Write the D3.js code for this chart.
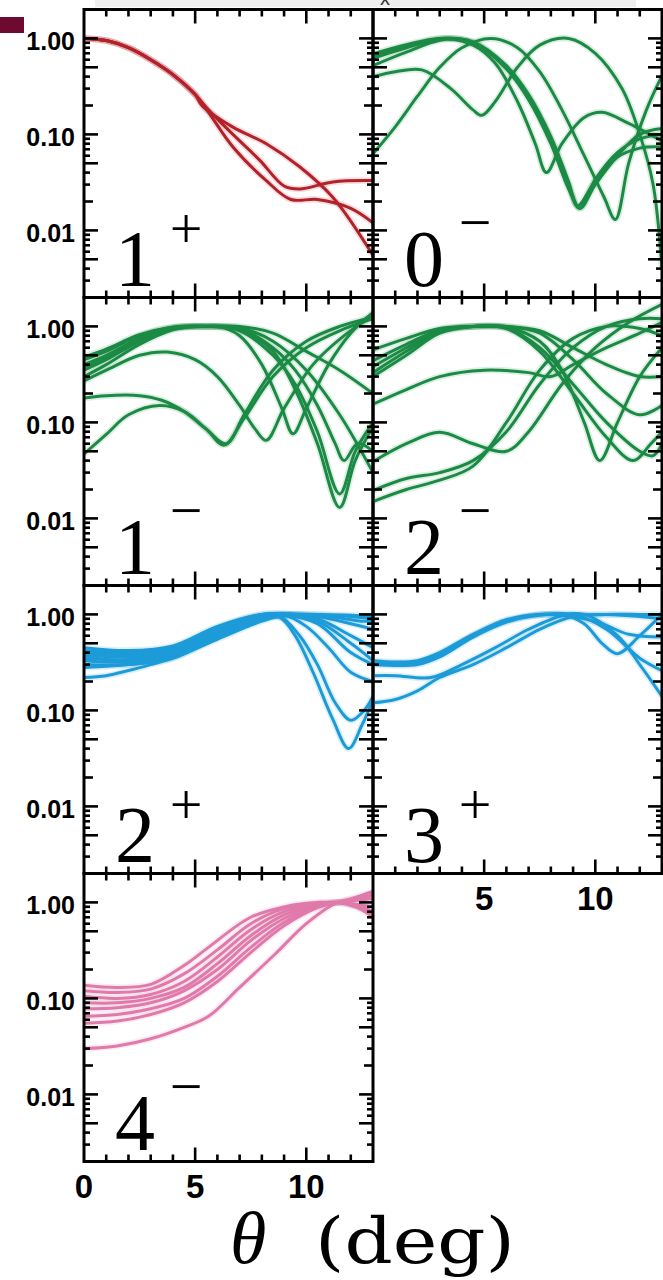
<!DOCTYPE html>
<html>
<head>
<meta charset="utf-8">
<script src="https://d3js.org/d3.v7.min.js"></script>
<style>
  body { margin: 0; background: #fff; }
  svg { display: block; }
</style>
</head>
<body>
<svg id="chart" width="663" height="1280"></svg>
<script>
// axes
const thetaDomain = [0, 13];
const yDomain = [0.002, 2];
const xMajorTicks = [5, 10];
const xLabelTicks = [0, 5, 10];
const yLabelTicks = [1, 0.1, 0.01];
const yLabelText = ["1.00", "0.10", "0.01"];

// curves, [theta (deg), normalised value]
const curves1p = [
  [[0,1],[1,0.95],[2,0.8],[3,0.6],[4,0.42],[5,0.26],[5.3,0.2],[6.7,0.119],[8.2,0.08],[9.7,0.046],[11.2,0.022],[13,0.0055]],
  [[0,1],[1,0.95],[2,0.8],[3,0.6],[4,0.42],[5,0.26],[5.6,0.18],[6.7,0.1],[7.9,0.054],[9,0.029],[9.7,0.027],[11.2,0.032],[13,0.033]],
  [[0,1],[1,0.95],[2,0.8],[3,0.6],[4,0.42],[5,0.26],[5.6,0.17],[6.7,0.074],[8.2,0.033],[9.3,0.021],[10.5,0.021],[12,0.017],[13,0.012]]
];
const curves0m = [
  [[0,0.69],[1.5,0.86],[3,1.0],[4.5,0.9],[6,0.5],[7,0.25],[8,0.09],[8.8,0.03],[9.3,0.017],[10,0.03],[11,0.06],[12,0.1],[13,0.115]],
  [[0,0.62],[1.5,0.8],[3.2,1.0],[4.5,0.92],[6,0.52],[7,0.26],[8,0.095],[8.8,0.032],[9.2,0.018],[10,0.033],[11,0.058],[12,0.072],[13,0.074]],
  [[0,0.66],[1.5,0.83],[3.1,1.0],[4.5,0.91],[6,0.48],[7,0.23],[8,0.08],[8.8,0.027],[9.3,0.017],[10,0.034],[11,0.065],[12,0.09],[13,0.1]],
  [[0,0.52],[1.5,0.72],[3.3,0.98],[4.5,0.85],[5.5,0.55],[6.5,0.22],[7.3,0.08],[7.8,0.04],[8.5,0.08],[9.5,0.15],[10.3,0.17],[11.5,0.13],[13,0.085]],
  [[0,0.40],[1,0.45],[2.2,0.47],[3.5,0.3],[4.5,0.18],[4.9,0.158],[5.5,0.22],[6.5,0.5],[7.5,0.85],[8.8,1.0],[10,0.7],[11.2,0.3],[12,0.1],[12.6,0.03],[13,0.004]],
  [[0,0.063],[1,0.12],[2,0.25],[3,0.5],[4,0.8],[5.3,1.0],[6.5,0.8],[7.5,0.45],[8.5,0.18],[9.5,0.06],[10.4,0.022],[10.9,0.013],[11.5,0.05],[12.3,0.18],[13,0.41]]
];
const curves1m = [
  [[0,0.18],[1,0.19],[2.5,0.19],[3.5,0.17],[4.5,0.13],[5.5,0.085],[6.4,0.06],[7.2,0.12],[8.5,0.35],[10,0.7],[11.5,1.0],[13,1.25]],
  [[0,0.047],[1,0.075],[2,0.12],[3.4,0.15],[4.5,0.13],[5.5,0.085],[6.3,0.058],[7.2,0.11],[8.5,0.3],[10,0.6],[11.5,0.9],[13,1.2]],
  [[0,0.27],[1,0.35],[2.5,0.5],[3.75,0.54],[5,0.45],[6,0.3],[7,0.15],[7.7,0.085],[8.2,0.065],[9,0.14],[10.3,0.4],[11.7,0.8],[13,1.3]],
  [[0,0.3],[1,0.4],[2.5,0.65],[4,0.92],[5,1.0],[6,1.0],[7,0.8],[8,0.4],[8.9,0.14],[9.4,0.076],[10,0.14],[11,0.4],[12,0.85],[13,1.4]],
  [[0,0.35],[1,0.45],[2.5,0.7],[4,0.95],[5.5,1.0],[7,0.95],[8.5,0.6],[9.5,0.35],[10.5,0.15],[11.3,0.06],[11.7,0.04],[12.3,0.06],[13,0.05]],
  [[0,0.4],[1,0.5],[2.5,0.75],[4,0.97],[5.5,1.0],[7,0.9],[8.5,0.5],[9.5,0.25],[10.5,0.08],[11.5,0.018],[12.2,0.05],[13,0.1]],
  [[0,0.45],[1,0.55],[2.5,0.8],[4,0.98],[5.5,1.0],[7,0.92],[8.5,0.55],[9.5,0.22],[10.5,0.06],[11.5,0.013],[12.2,0.04],[13,0.09]],
  [[0,0.48],[1,0.58],[2.5,0.82],[4,0.98],[5.5,1.0],[7,0.97],[8.5,0.7],[10,0.35],[11.5,0.12],[13,0.03]],
  [[0,0.38],[1,0.47],[2.5,0.73],[4,0.96],[5.5,1.0],[7,1.0],[8.5,0.85],[10,0.55],[11.5,0.35],[13,0.2]]
];
const curves2m = [
  [[0,0.57],[1.5,0.75],[3,0.95],[4.5,1.0],[6,1.0],[7.5,0.9],[9,0.6],[10.5,0.4],[12,0.3],[13,0.3]],
  [[0,0.44],[1.5,0.65],[3,0.92],[4.5,1.0],[6,0.98],[7.5,0.7],[8.5,0.35],[9.5,0.1],[10.2,0.04],[11,0.1],[12,0.3],[13,0.6]],
  [[0,0.38],[1.5,0.6],[3,0.9],[4.5,1.0],[6,0.95],[7.5,0.55],[9,0.2],[10.5,0.07],[11.7,0.04],[12.5,0.06],[13,0.08]],
  [[0,0.33],[1.5,0.55],[3,0.88],[4.5,1.0],[6,0.96],[7.5,0.6],[9,0.25],[10.5,0.1],[12,0.05],[12.6,0.045],[13,0.06]],
  [[0,0.3],[1.5,0.5],[3,0.85],[4.5,1.0],[6,1.0],[7.5,0.85],[9,0.45],[10.5,0.2],[12,0.12],[13,0.15]],
  [[0,0.155],[1.5,0.22],[3,0.3],[5,0.35],[7,0.33],[8,0.3],[9,0.4],[10.5,0.6],[12,0.85],[13,1.1]],
  [[0,0.039],[1.5,0.06],[3,0.079],[4.5,0.06],[6,0.05],[7,0.08],[8.5,0.25],[10,0.6],[11.5,1.1],[13,1.7]],
  [[0,0.0195],[1.5,0.026],[3,0.03],[4.5,0.04],[6,0.08],[7.5,0.25],[9,0.6],[10.5,1.0],[12,1.2],[13,1.2]],
  [[0,0.015],[1.5,0.02],[3,0.025],[4.5,0.035],[6,0.1],[7.5,0.35],[9,0.75],[10.5,1.0],[12,0.95],[13,0.8]]
];
const curves2p = [
  [[0,0.42],[2,0.4],[4,0.45],[6,0.7],[8,0.97],[9,1.0],[10.5,1.0],[12,0.95],[13,0.9]],
  [[0,0.38],[2,0.36],[4,0.42],[6,0.7],[8,0.95],[9,1.0],[10.5,0.95],[12,0.8],[13,0.7]],
  [[0,0.35],[2,0.34],[4,0.4],[6,0.65],[8,0.93],[9,1.0],[10.5,0.9],[12,0.6],[13,0.45]],
  [[0,0.33],[2,0.32],[4,0.38],[6,0.62],[8,0.95],[9,0.98],[10.5,0.8],[12,0.4],[13,0.3]],
  [[0,0.4],[2,0.38],[4,0.44],[6,0.72],[8,1.0],[9.5,1.0],[11,0.95],[12.5,0.85],[13,0.85]],
  [[0,0.3],[2,0.3],[4,0.36],[6,0.6],[8,0.9],[9,0.98],[10,0.75],[11,0.45],[12,0.25],[13,0.2]],
  [[0,0.28],[2,0.3],[4,0.35],[6,0.58],[8,0.88],[8.8,0.95],[9.7,0.6],[10.5,0.3],[11.3,0.12],[12,0.079],[12.6,0.1],[13,0.14]],
  [[0,0.36],[2,0.33],[4,0.38],[6,0.6],[8,0.9],[8.8,0.93],[9.5,0.6],[10.3,0.25],[11.2,0.08],[11.9,0.04],[12.5,0.07],[13,0.13]],
  [[0,0.22],[1,0.23],[2,0.26],[3,0.3],[4,0.35],[6,0.55],[8,0.85],[9,0.97],[10.5,0.85],[12,0.5],[13,0.33]],
  [[0,0.45],[2,0.42],[4,0.47],[6,0.75],[8,1.0],[10,1.0],[12,0.98],[13,0.95]]
];
const curves3p = [
  [[0,0.31],[1,0.3],[2,0.31],[3,0.38],[4.5,0.6],[6,0.85],[7.5,1.0],[9,0.98],[10.5,1.0],[12,1.0],[13,1.0]],
  [[0,0.33],[1,0.32],[2,0.33],[3,0.4],[4.5,0.62],[6,0.88],[7.5,1.0],[9,0.95],[10.3,0.8],[11.5,0.62],[13,0.58]],
  [[0,0.3],[2,0.3],[3,0.36],[4.5,0.58],[6,0.83],[7.2,0.97],[8.5,1.0],[9.5,0.8],[10.3,0.5],[11,0.39],[12,0.6],[13,1.0]],
  [[0,0.32],[2,0.32],[3,0.39],[4.5,0.6],[6,0.86],[7.5,0.98],[9,1.0],[10.5,0.7],[12,0.35],[13,0.26]],
  [[0,0.23],[1,0.23],[2.6,0.22],[4,0.3],[5.5,0.45],[7,0.7],[8.5,0.97],[9.5,1.0],[11,0.6],[12,0.3],[13,0.14]],
  [[0,0.12],[1,0.13],[2,0.16],[3,0.22],[4.5,0.3],[6,0.45],[7.5,0.7],[9,0.95],[10.5,1.0],[12,0.95],[13,0.9]]
];
const curves4m = [
  [[0,0.137],[1.5,0.13],[3,0.14],[4.5,0.22],[5.6,0.34],[7.5,0.7],[9.3,0.93],[10.5,1.0],[11.4,1.0],[12.3,1.15],[13,1.3]],
  [[0,0.12],[1.5,0.115],[3,0.125],[4.5,0.18],[6,0.32],[7.5,0.6],[9,0.86],[10.5,0.98],[11.4,1.0],[12.3,0.88],[13,0.7]],
  [[0,0.105],[1.5,0.1],[3,0.11],[4.5,0.15],[6,0.27],[7.5,0.52],[9,0.8],[10.5,0.96],[11.4,1.0],[12.3,1.08],[13,1.2]],
  [[0,0.09],[1.5,0.09],[3,0.1],[4.5,0.13],[6,0.23],[7.5,0.45],[9,0.74],[10.5,0.94],[11.4,1.0],[12.3,0.92],[13,0.8]],
  [[0,0.078],[1.5,0.08],[3,0.09],[4.5,0.12],[6,0.2],[7.5,0.4],[9,0.68],[10.5,0.92],[11.4,1.0],[12.3,1.05],[13,1.1]],
  [[0,0.065],[1.5,0.068],[3,0.078],[4.5,0.1],[6,0.17],[7.5,0.34],[9,0.62],[10.5,0.9],[11.4,1.0],[12.3,0.95],[13,0.9]],
  [[0,0.055],[1.5,0.058],[3,0.068],[4.5,0.09],[6,0.15],[7.5,0.3],[9,0.57],[10.5,0.88],[11.4,1.0],[12.3,0.9],[13,0.75]],
  [[0,0.03],[1.5,0.032],[3,0.038],[4.5,0.05],[5.6,0.065],[7,0.13],[8.6,0.29],[10,0.6],[11.4,1.0],[12.3,1.1],[13,1.2]]
];

const panelNames = ["1", "0", "1", "2", "2", "3", "4"];
const panelSigns = ["+", "\u2212", "\u2212", "\u2212", "+", "+", "\u2212"];
const panelColors = ["#b3212b", "#1b8a45", "#1b8a45", "#1b8a45", "#1c9bd8", "#1c9bd8", "#e07aab"];
const panelCurves = [curves1p, curves0m, curves1m, curves2m, curves2p, curves3p, curves4m];

const svg = d3.select("#chart");
const panelW = 289, panelH = 288;
const colX = [84, 373];
const rowY = [9.5, 297.5, 585.5, 873.5];

// bits of the page around the figure
svg.append("rect").attr("x", 95).attr("y", 0).attr("width", 541).attr("height", 7).attr("fill", "#efefef");
svg.append("text").attr("x", 380).attr("y", 5).attr("font-family", "Liberation Sans, Arial")
  .attr("font-size", 20).attr("fill", "#333").text("x");
svg.append("rect").attr("x", 0).attr("y", 17).attr("width", 24).attr("height", 16).attr("fill", "#6e0a30");

// log tick values 2e-3 .. 2
let yTicks = [];
for (let k = -3; k <= 0; k++) {
  for (let m = 1; m <= 9; m++) {
    const v = m * Math.pow(10, k);
    if (v >= yDomain[0] - 1e-9 && v <= yDomain[1] + 1e-9) yTicks.push({v: v, m: m});
  }
}
const xTicks = d3.range(1, 13);

panelCurves.forEach((curves, i) => {
  const col = i % 2, row = Math.floor(i / 2);
  const left = colX[col], top = rowY[row];
  const x = d3.scaleLinear().domain(thetaDomain).range([left, left + panelW]);
  const y = d3.scaleLog().domain(yDomain).range([top + panelH, top]);
  const g = svg.append("g");

  const clipId = "clip" + i;
  svg.append("clipPath").attr("id", clipId).append("rect")
    .attr("x", left).attr("y", top).attr("width", panelW).attr("height", panelH);

  const line = d3.line()
    .x(d => x(d[0]))
    .y(d => y(d[1]))
    .curve(d3.curveCatmullRom.alpha(0.5));

  const lines = g.append("g").attr("clip-path", `url(#${clipId})`);
  lines.selectAll("path.halo").data(curves).enter().append("path")
    .attr("d", line).attr("fill", "none")
    .attr("stroke", panelColors[i]).attr("stroke-opacity", 0.15).attr("stroke-width", 6.5);
  lines.selectAll("path.curve").data(curves).enter().append("path")
    .attr("d", line).attr("fill", "none")
    .attr("stroke", panelColors[i]).attr("stroke-width", 3);

  // inward ticks on all four sides
  const ax = g.append("g").attr("stroke", "#000").attr("stroke-width", 2.6);
  xTicks.forEach(t => {
    const len = xMajorTicks.includes(t) ? 14 : 7;
    ax.append("line").attr("x1", x(t)).attr("x2", x(t)).attr("y1", top).attr("y2", top + len);
    ax.append("line").attr("x1", x(t)).attr("x2", x(t)).attr("y1", top + panelH).attr("y2", top + panelH - len);
  });
  yTicks.forEach(t => {
    const len = (t.m === 1 || t.m === 5) ? 14 : (t.m === 2 ? 9 : 6);
    ax.append("line").attr("x1", left).attr("x2", left + len).attr("y1", y(t.v)).attr("y2", y(t.v));
    ax.append("line").attr("x1", left + panelW).attr("x2", left + panelW - len).attr("y1", y(t.v)).attr("y2", y(t.v));
  });
  g.append("rect").attr("x", left).attr("y", top).attr("width", panelW).attr("height", panelH)
    .attr("fill", "none").attr("stroke", "#000").attr("stroke-width", 3);

  // panel label, e.g. 1+
  g.append("text").attr("x", left + 31).attr("y", top + 276)
    .attr("font-family", "Liberation Serif, Times New Roman, serif").attr("font-size", 80)
    .text(panelNames[i]);
  g.append("text").attr("x", left + 102).attr("y", top + (panelSigns[i] === "+" ? 238 : 232))
    .attr("text-anchor", "middle")
    .attr("font-family", "Liberation Serif, Times New Roman, serif").attr("font-size", 58)
    .text(panelSigns[i]);

  if (col === 0) {
    g.selectAll("text.ylab").data(yLabelTicks).enter().append("text")
      .attr("x", left - 9).attr("y", d => y(d) + 12)
      .attr("text-anchor", "end")
      .attr("font-family", "Liberation Sans, Arial, sans-serif").attr("font-weight", "bold")
      .attr("font-size", 25)
      .text((d, j) => yLabelText[j]);
  }
  // x labels under the lowest panel of each column
  if (row === 3 || (col === 1 && row === 2)) {
    const labs = col === 0 ? xLabelTicks : xMajorTicks;
    g.selectAll("text.xlab").data(labs).enter().append("text")
      .attr("x", d => x(d)).attr("y", top + panelH + 36)
      .attr("text-anchor", "middle")
      .attr("font-family", "Liberation Sans, Arial, sans-serif").attr("font-weight", "bold")
      .attr("font-size", 33)
      .text(d => d);
  }
});

// axis title
svg.append("text").attr("x", 230).attr("y", 1263)
  .attr("font-family", "Liberation Serif, Times New Roman, serif").attr("font-style", "italic")
  .attr("font-size", 74).text("\u03b8");
svg.append("text").attr("x", 315).attr("y", 1263)
  .attr("font-family", "DejaVu Serif, serif")
  .attr("font-size", 64)
  .attr("textLength", 200).attr("lengthAdjust", "spacingAndGlyphs")
  .text("(deg)");
</script>
</body>
</html>
